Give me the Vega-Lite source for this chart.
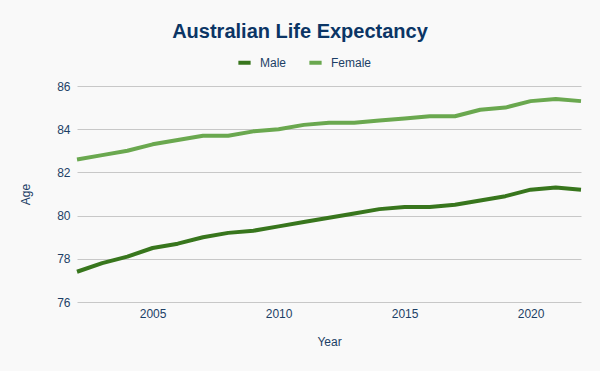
{
  "$schema": "https://vega.github.io/schema/vega-lite/v6.json",
  "width": 504,
  "height": 216,
  "autosize": {"type": "none"},
  "padding": {"left": 77, "top": 86, "right": 19, "bottom": 69},
  "background": "#f9f9f9",
  "title": {
    "text": "Australian Life Expectancy",
    "anchor": "middle",
    "dx": -29,
    "offset": 12,
    "fontSize": 20,
    "fontWeight": "bold",
    "font": "Liberation Sans",
    "color": "#0b3565"
  },
  "config": {
    "view": {"stroke": null},
    "font": "Liberation Sans",
    "axis": {
      "domain": false,
      "ticks": false,
      "tickSize": 0,
      "gridColor": "#c8c8c8",
      "gridWidth": 1,
      "labelFont": "Liberation Sans",
      "labelFontSize": 12,
      "labelColor": "#1c3f66",
      "titleFont": "Liberation Sans",
      "titleFontSize": 12,
      "titleFontWeight": "normal",
      "titleColor": "#1c3f66"
    }
  },
  "data": {
    "values": [
      {"Year": 2002, "Sex": "Male", "Age": 77.4},
      {"Year": 2003, "Sex": "Male", "Age": 77.8},
      {"Year": 2004, "Sex": "Male", "Age": 78.1},
      {"Year": 2005, "Sex": "Male", "Age": 78.5},
      {"Year": 2006, "Sex": "Male", "Age": 78.7},
      {"Year": 2007, "Sex": "Male", "Age": 79.0},
      {"Year": 2008, "Sex": "Male", "Age": 79.2},
      {"Year": 2009, "Sex": "Male", "Age": 79.3},
      {"Year": 2010, "Sex": "Male", "Age": 79.5},
      {"Year": 2011, "Sex": "Male", "Age": 79.7},
      {"Year": 2012, "Sex": "Male", "Age": 79.9},
      {"Year": 2013, "Sex": "Male", "Age": 80.1},
      {"Year": 2014, "Sex": "Male", "Age": 80.3},
      {"Year": 2015, "Sex": "Male", "Age": 80.4},
      {"Year": 2016, "Sex": "Male", "Age": 80.4},
      {"Year": 2017, "Sex": "Male", "Age": 80.5},
      {"Year": 2018, "Sex": "Male", "Age": 80.7},
      {"Year": 2019, "Sex": "Male", "Age": 80.9},
      {"Year": 2020, "Sex": "Male", "Age": 81.2},
      {"Year": 2021, "Sex": "Male", "Age": 81.3},
      {"Year": 2022, "Sex": "Male", "Age": 81.2},
      {"Year": 2002, "Sex": "Female", "Age": 82.6},
      {"Year": 2003, "Sex": "Female", "Age": 82.8},
      {"Year": 2004, "Sex": "Female", "Age": 83.0},
      {"Year": 2005, "Sex": "Female", "Age": 83.3},
      {"Year": 2006, "Sex": "Female", "Age": 83.5},
      {"Year": 2007, "Sex": "Female", "Age": 83.7},
      {"Year": 2008, "Sex": "Female", "Age": 83.7},
      {"Year": 2009, "Sex": "Female", "Age": 83.9},
      {"Year": 2010, "Sex": "Female", "Age": 84.0},
      {"Year": 2011, "Sex": "Female", "Age": 84.2},
      {"Year": 2012, "Sex": "Female", "Age": 84.3},
      {"Year": 2013, "Sex": "Female", "Age": 84.3},
      {"Year": 2014, "Sex": "Female", "Age": 84.4},
      {"Year": 2015, "Sex": "Female", "Age": 84.5},
      {"Year": 2016, "Sex": "Female", "Age": 84.6},
      {"Year": 2017, "Sex": "Female", "Age": 84.6},
      {"Year": 2018, "Sex": "Female", "Age": 84.9},
      {"Year": 2019, "Sex": "Female", "Age": 85.0},
      {"Year": 2020, "Sex": "Female", "Age": 85.3},
      {"Year": 2021, "Sex": "Female", "Age": 85.4},
      {"Year": 2022, "Sex": "Female", "Age": 85.3}
    ]
  },
  "mark": {"type": "line", "strokeWidth": 4, "strokeJoin": "round"},
  "encoding": {
    "x": {
      "field": "Year",
      "type": "quantitative",
      "scale": {"domain": [2002, 2022], "nice": false, "zero": false},
      "axis": {"values": [2005, 2010, 2015, 2020], "format": "d", "grid": false, "labelPadding": 6, "titlePadding": 17, "title": "Year"}
    },
    "y": {
      "field": "Age",
      "type": "quantitative",
      "scale": {"domain": [76, 86], "nice": false, "zero": false},
      "axis": {"values": [76, 78, 80, 82, 84, 86], "labelPadding": 7, "titlePadding": 24, "title": "Age", "grid": true}
    },
    "color": {
      "field": "Sex",
      "type": "nominal",
      "sort": ["Male", "Female"],
      "scale": {"domain": ["Male", "Female"], "range": ["#38761d", "#6aa84f"]},
      "legend": {
        "title": null,
        "orient": "none",
        "direction": "horizontal",
        "legendX": 159,
        "legendY": -32,
        "symbolType": "stroke",
        "symbolStrokeWidth": 4,
        "symbolSize": 150,
        "labelFont": "Liberation Sans",
        "labelFontSize": 12,
        "labelColor": "#1c3f66",
        "columnPadding": 14,
        "labelOffset": 7
      }
    }
  }
}
